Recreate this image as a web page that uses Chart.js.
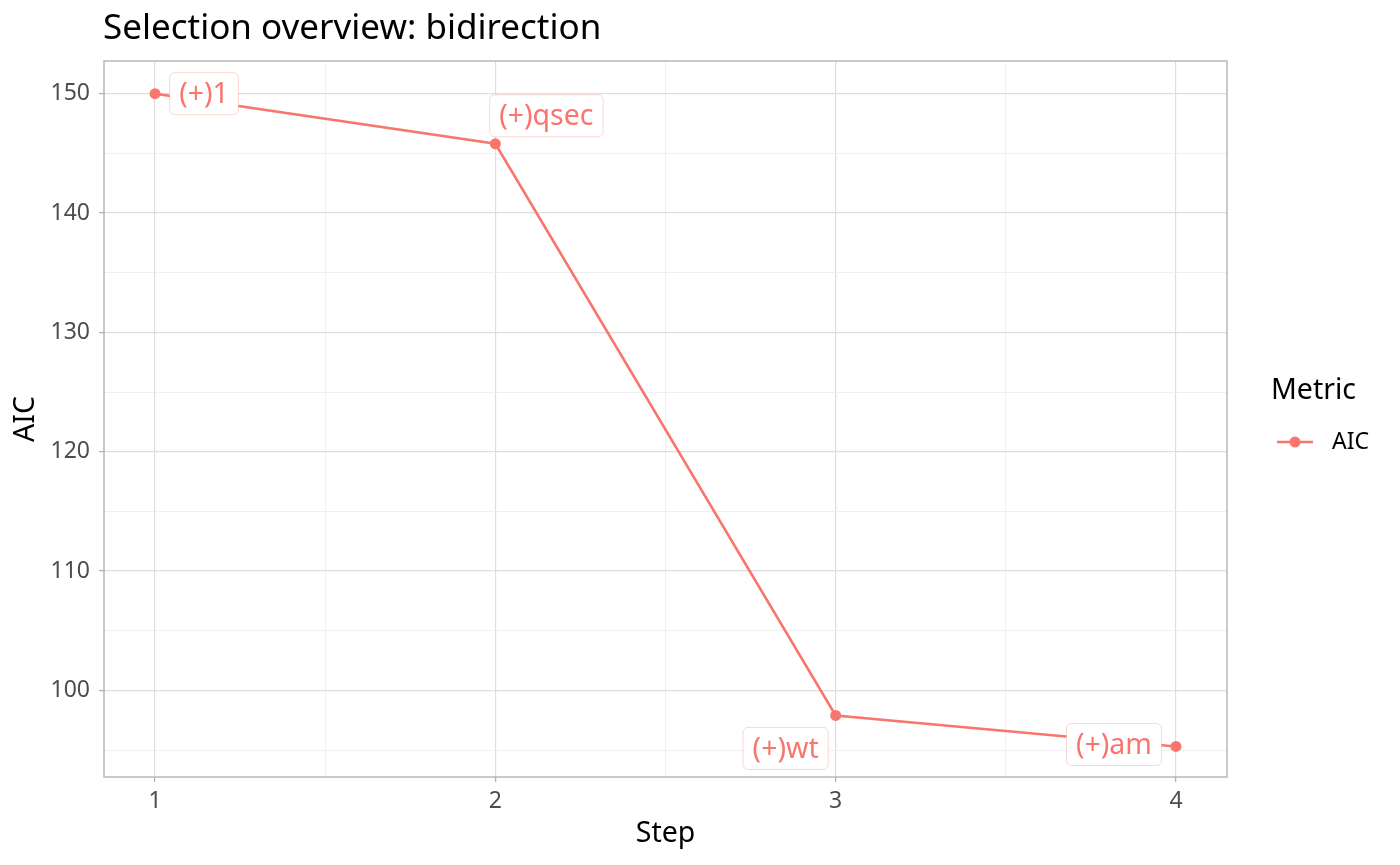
<!DOCTYPE html>
<html>
<head>
<meta charset="utf-8">
<script src="https://cdn.jsdelivr.net/npm/chart.js@4/dist/chart.umd.min.js"></script>
<style>
  html, body { margin: 0; padding: 0; background: #fff; }
  #wrap { width: 1400px; height: 865px; }
</style>
</head>
<body>
<div id="wrap"><canvas id="stepChart"></canvas></div>
<script>
// data
const steps = [1, 2, 3, 4];
const aicValues = [150.0, 145.8, 97.9, 95.3];
const stepLabels = ['(+)1', '(+)qsec', '(+)wt', '(+)am'];
const yTickValues = [95, 100, 105, 110, 115, 120, 125, 130, 135, 140, 145, 150];
const xTickValues = [1, 1.5, 2, 2.5, 3, 3.5, 4];

const lineColor = '#F8766D';
const fontFamily = '"Noto Sans", "Open Sans", sans-serif';

// where each label box sits relative to its point (px), like ggrepel placed them
const labelNudge = [[49, 0], [51, -28], [-50, 33], [-62, -2]];

const overlayPlugin = {
    id: 'overlay',
    afterDatasetsDraw(chart) {
        const ctx = chart.ctx;
        const xs = chart.scales.x, ys = chart.scales.y;

        // repelled labels
        ctx.save();
        ctx.font = '28.5px ' + fontFamily;
        ctx.textAlign = 'center';
        ctx.textBaseline = 'middle';
        stepLabels.forEach(function(txt, i) {
            const px = xs.getPixelForValue(steps[i]);
            const py = ys.getPixelForValue(aicValues[i]);
            const cx = px + labelNudge[i][0];
            const cy = py + labelNudge[i][1];
            const w = ctx.measureText(txt).width + 19;
            const h = 42;
            ctx.beginPath();
            ctx.roundRect(cx - w / 2, cy - h / 2, w, h, 5);
            ctx.fillStyle = '#ffffff';
            ctx.fill();
            ctx.strokeStyle = 'rgba(248,118,109,0.3)';
            ctx.lineWidth = 1;
            ctx.stroke();
            ctx.fillStyle = lineColor;
            ctx.fillText(txt, cx, cy + 1);
        });
        ctx.restore();
    },
    afterDraw(chart) {
        const ctx = chart.ctx;
        const area = chart.chartArea;
        ctx.save();
        // panel border
        ctx.strokeStyle = '#b3b3b3';
        ctx.lineWidth = 1.4;
        ctx.strokeRect(area.left, area.top, area.right - area.left, area.bottom - area.top);

        // title
        ctx.fillStyle = '#000';
        ctx.font = '35px ' + fontFamily;
        ctx.textAlign = 'left';
        ctx.textBaseline = 'middle';
        ctx.fillText('Selection overview: bidirection', 103, 29);

        // legend
        ctx.font = '28.5px ' + fontFamily;
        ctx.fillText('Metric', 1271, 391);
        ctx.strokeStyle = lineColor;
        ctx.lineWidth = 2.6;
        ctx.beginPath();
        ctx.moveTo(1277, 442);
        ctx.lineTo(1313, 442);
        ctx.stroke();
        ctx.fillStyle = lineColor;
        ctx.beginPath();
        ctx.arc(1295, 442, 5.5, 0, Math.PI * 2);
        ctx.fill();
        ctx.fillStyle = '#000';
        ctx.font = '23px ' + fontFamily;
        ctx.fillText('AIC', 1332, 442);
        ctx.restore();
    }
};

document.addEventListener('DOMContentLoaded', function() {
    createStepChart();
});

function createStepChart() {
    const ctx = document.getElementById('stepChart').getContext('2d');
    new Chart(ctx, {
        type: 'line',
        data: {
            datasets: [{
                label: 'AIC',
                data: steps.map((s, i) => ({ x: s, y: aicValues[i] })),
                borderColor: lineColor,
                backgroundColor: lineColor,
                borderWidth: 2.6,
                pointRadius: 5.5,
                pointHoverRadius: 5.5,
                pointBorderWidth: 0,
                tension: 0,
                fill: false
            }]
        },
        plugins: [overlayPlugin],
        options: {
            responsive: true,
            maintainAspectRatio: false,
            animation: false,
            events: [],
            layout: { padding: { left: 0, top: 61, right: 173, bottom: 0 } },
            plugins: {
                legend: { display: false },
                title: { display: false },
                tooltip: { enabled: false }
            },
            scales: {
                x: {
                    type: 'linear',
                    min: 0.85,
                    max: 4.15,
                    afterBuildTicks: s => { s.ticks = xTickValues.map(v => ({ value: v })); },
                    afterFit: s => { s.height = 88; },
                    border: { display: false },
                    grid: {
                        color: c => Number.isInteger(c.tick.value) ? '#dedede' : '#ececec',
                        lineWidth: c => Number.isInteger(c.tick.value) ? 1.2 : 0.8,
                        tickColor: c => Number.isInteger(c.tick.value) ? '#b3b3b3' : 'rgba(0,0,0,0)',
                        tickLength: 5,
                        tickWidth: 1.3
                    },
                    ticks: {
                        autoSkip: false,
                        maxRotation: 0,
                        padding: 6,
                        color: '#4d4d4d',
                        font: { family: fontFamily, size: 23 },
                        callback: v => Number.isInteger(v) ? String(v) : ''
                    },
                    title: {
                        display: true,
                        text: 'Step',
                        color: '#000',
                        font: { family: fontFamily, size: 28.5 },
                        padding: { top: 0, bottom: 14 }
                    }
                },
                y: {
                    type: 'linear',
                    min: 92.74,
                    max: 152.74,
                    afterBuildTicks: s => { s.ticks = yTickValues.map(v => ({ value: v })); },
                    afterFit: s => { s.width = 104; },
                    border: { display: false },
                    grid: {
                        color: c => c.tick.value % 10 === 0 ? '#dedede' : '#ececec',
                        lineWidth: c => c.tick.value % 10 === 0 ? 1.2 : 0.8,
                        tickColor: c => c.tick.value % 10 === 0 ? '#b3b3b3' : 'rgba(0,0,0,0)',
                        tickLength: 5,
                        tickWidth: 1.3
                    },
                    ticks: {
                        autoSkip: false,
                        padding: 9,
                        color: '#4d4d4d',
                        font: { family: fontFamily, size: 23 },
                        callback: v => v % 10 === 0 ? String(v) : ''
                    },
                    title: {
                        display: true,
                        text: 'AIC',
                        color: '#000',
                        font: { family: fontFamily, size: 28.5 },
                        padding: { top: 9, bottom: 0 }
                    }
                }
            }
        }
    });
}
</script>
</body>
</html>
